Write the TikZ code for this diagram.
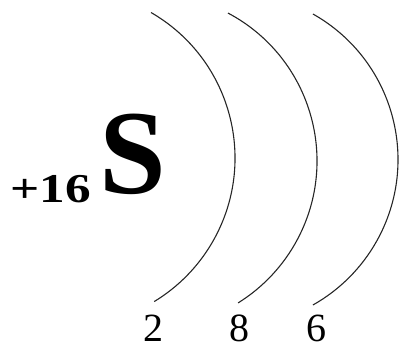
\documentclass[tikz,border=0pt]{standalone}
\usepackage{fontspec}
\setmainfont{Liberation Serif}
\begin{document}
\begin{tikzpicture}[x=1pt,y=1pt,
  shell/.style={line width=1.1pt, draw=black!85},
  lbl/.style={font=\fontsize{40}{40}\selectfont, anchor=base, inner sep=0pt},
  chg/.style={font=\fontsize{41}{41}\selectfont\bfseries, anchor=base, inner sep=0pt, xscale=1.25, transform shape},
  elem/.style={font=\fontsize{120}{120}\selectfont\bfseries, anchor=base, inner sep=0pt}]
\useasboundingbox (0,0) rectangle (400,348);
% shells
\coordinate (c1) at (67,190);
\coordinate (c2) at (149.7,187.1);
\coordinate (c3) at (231,188.5);
\draw[shell] (c1) ++(60:168) arc (60:-58.7:168);
\draw[shell] (c2) ++(62.1:167.3) arc (62.1:-58.1:167.3);
\draw[shell] (c3) ++(60.6:167) arc (60.6:-60.6:167);
% nucleus
\node[chg] (q) at (51,145) {+16};
\node[elem] (s) at (133,154) {S};
% electron counts
\node[lbl] (n1) at (153,6.5) {2};
\node[lbl] (n2) at (239,6.5) {8};
\node[lbl] (n3) at (316,6.5) {6};
\end{tikzpicture}
\end{document}
